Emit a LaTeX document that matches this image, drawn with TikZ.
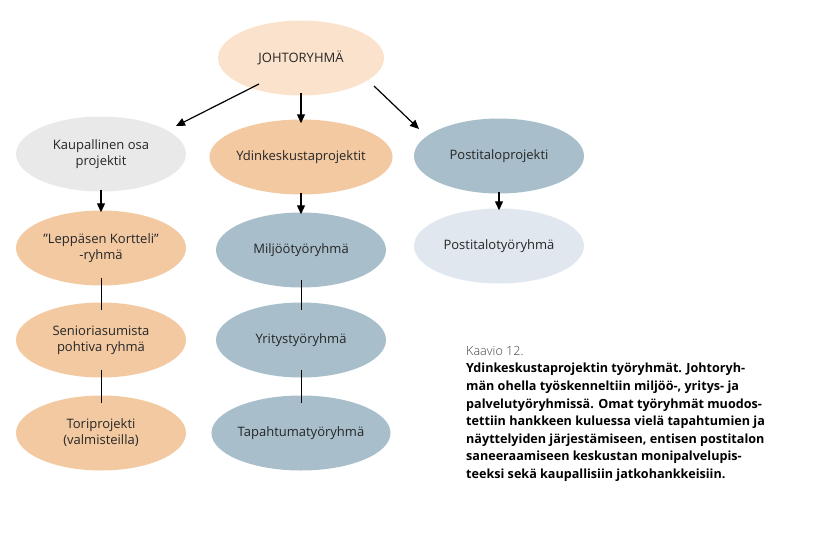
\documentclass[tikz,border=0pt]{standalone}
\usepackage{fontspec}
\setmainfont{Open Sans}
\usetikzlibrary{shapes.geometric,arrows.meta}
\definecolor{peach}{HTML}{F3C9A2}
\definecolor{lpeach}{HTML}{FBE2CC}
\definecolor{bgrey}{HTML}{A8BECB}
\definecolor{lgrey}{HTML}{E9E9E9}
\definecolor{lblue}{HTML}{E0E7EF}
\tikzset{
 el/.style={ellipse,minimum width=170pt,minimum height=75pt,inner sep=0pt,align=center,font=\fontsize{13}{16}\selectfont,text=black!85},
 arr/.style={-{Triangle[length=9pt,width=8pt]},line width=1.2pt},
 ln/.style={line width=1pt}
}
\begin{document}
\begin{tikzpicture}[x=1pt,y=-1pt]
\useasboundingbox (0,0) rectangle (833,544);
\node[el,fill=lpeach,minimum width=166pt] (j) at (301,58) {JOHTORYHMÄ};
\node[el,fill=lgrey] (k) at (101,154) {Kaupallinen osa\\projektit};
\node[el,fill=peach] (y) at (301,157) {Ydinkeskustaprojektit};
\node[el,fill=bgrey] (p) at (499,156) {Postitaloprojekti};
\node[el,fill=peach] (l) at (101,248) {”Leppäsen Kortteli”\\-ryhmä};
\node[el,fill=bgrey] (m) at (301,250) {Miljöötyöryhmä};
\node[el,fill=lblue] (pt) at (499,246) {Postitalotyöryhmä};
\node[el,fill=peach] (s) at (101,340) {Senioriasumista\\pohtiva ryhmä};
\node[el,fill=bgrey] (yr) at (301,340) {Yritystyöryhmä};
\node[el,fill=peach] (t) at (101,433) {Toriprojekti\\(valmisteilla)};
\node[el,fill=bgrey] (ta) at (301,433) {Tapahtumatyöryhmä};
\coordinate (a1) at (259,84); \coordinate (a2) at (176,126);
\draw[arr] (a1) -- (a2);
\draw[arr] ([yshift=3pt]j.south) -- ([yshift=-4pt]y.north);
\coordinate (b1) at (374,86); \coordinate (b2) at (419,129);
\draw[arr] (b1) -- (b2);
\draw[arr] ([yshift=2pt]k.south) -- ([yshift=-2pt]l.north);
\draw[arr] ([yshift=2pt]y.south) -- ([yshift=-2pt]m.north);
\draw[arr] ([yshift=2pt]p.south) -- ([yshift=-2pt]pt.north);
\draw[ln] ([yshift=8pt]l.south) -- ([yshift=-8pt]s.north);
\draw[ln] ([yshift=8pt]s.south) -- ([yshift=-8pt]t.north);
\draw[ln] ([yshift=8pt]m.south) -- ([yshift=-8pt]yr.north);
\draw[ln] ([yshift=8pt]yr.south) -- ([yshift=-8pt]ta.north);
\node[anchor=north west,inner sep=0pt,align=left,font=\fontsize{12.6}{17.6}\selectfont] (cap) at (466,346)
{{\fontspec{Open Sans Light}\color{black!75}Kaavio 12.}\\
\textbf{Ydinkeskustaprojektin työryhmät. Johtoryh-}\\
\textbf{män ohella työskenneltiin miljöö-, yritys- ja}\\
\textbf{palvelutyöryhmissä. Omat työryhmät muodos-}\\
\textbf{tettiin hankkeen kuluessa vielä tapahtumien ja}\\
\textbf{näyttelyiden järjestämiseen, entisen postitalon}\\
\textbf{saneeraamiseen keskustan monipalvelupis-}\\
\textbf{teeksi sekä kaupallisiin jatkohankkeisiin.}};
\end{tikzpicture}
\end{document}
